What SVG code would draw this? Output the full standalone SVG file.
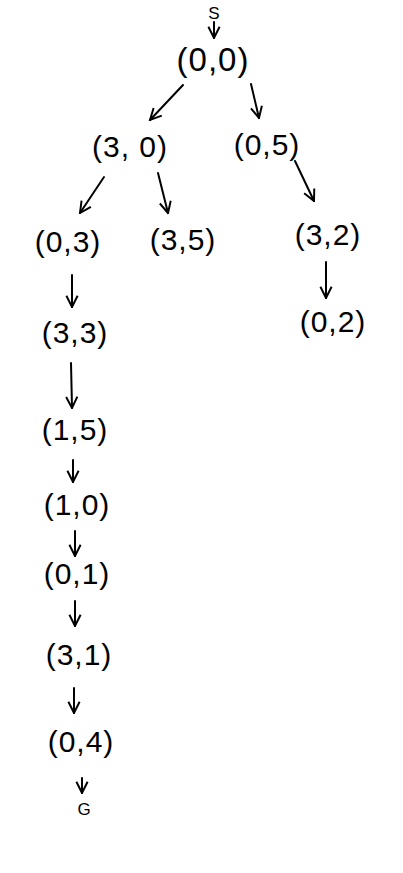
<svg xmlns="http://www.w3.org/2000/svg" width="403" height="873" viewBox="0 0 403 873">
<style>
.n{font-family:"Liberation Sans",Arial,sans-serif;font-size:30px;fill:#000;text-anchor:middle;letter-spacing:1px}
.s{font-family:"Liberation Sans",Arial,sans-serif;font-size:17px;fill:#000;text-anchor:middle}
.e{stroke:#000;stroke-width:2;fill:none;stroke-linecap:round;marker-end:url(#a)}
</style>
<defs>
<marker id="a" viewBox="0 0 10 10" refX="9" refY="5" markerWidth="7" markerHeight="7" orient="auto-start-reverse" markerUnits="strokeWidth">
<path d="M1,1 L9,5 L1,9" fill="none" stroke="#000" stroke-width="1.4"/>
</marker>
</defs>
<rect width="403" height="873" fill="#fff"/>
<g id="connectors">
<line class="e" x1="214" y1="22" x2="214" y2="38"/>
<line class="e" x1="183" y1="85" x2="150" y2="120"/>
<line class="e" x1="251" y1="84" x2="259" y2="118"/>
<line class="e" x1="104" y1="177" x2="80" y2="213"/>
<line class="e" x1="158" y1="173" x2="168" y2="213"/>
<line class="e" x1="295" y1="161" x2="314" y2="201"/>
<line class="e" x1="326" y1="262" x2="326" y2="298"/>
<line class="e" x1="72" y1="275" x2="72" y2="307"/>
<line class="e" x1="71" y1="363" x2="72" y2="408"/>
<line class="e" x1="73" y1="460" x2="73" y2="482"/>
<line class="e" x1="75" y1="531" x2="75" y2="556"/>
<line class="e" x1="75" y1="601" x2="75" y2="626"/>
<line class="e" x1="74" y1="688" x2="74" y2="713"/>
<line class="e" x1="82" y1="778" x2="82" y2="793"/>
</g>
<g id="S"><text class="s" x="214" y="19">S</text></g>
<g id="n00"><text class="n" x="213" y="71" style="font-size:33px">(0,0)</text></g>
<g id="n30"><text class="n" x="130" y="157">(3, 0)</text></g>
<g id="n05"><text class="n" x="267" y="155">(0,5)</text></g>
<g id="n03"><text class="n" x="68" y="252">(0,3)</text></g>
<g id="n35"><text class="n" x="183" y="250">(3,5)</text></g>
<g id="n32"><text class="n" x="328" y="245">(3,2)</text></g>
<g id="n02"><text class="n" x="333" y="332">(0,2)</text></g>
<g id="n33"><text class="n" x="75" y="343">(3,3)</text></g>
<g id="n15"><text class="n" x="75" y="440">(1,5)</text></g>
<g id="n10"><text class="n" x="77" y="515">(1,0)</text></g>
<g id="n01"><text class="n" x="77" y="584">(0,1)</text></g>
<g id="n31"><text class="n" x="79" y="665">(3,1)</text></g>
<g id="n04"><text class="n" x="81" y="752">(0,4)</text></g>
<g id="G"><text class="s" x="84" y="815">G</text></g>
</svg>
